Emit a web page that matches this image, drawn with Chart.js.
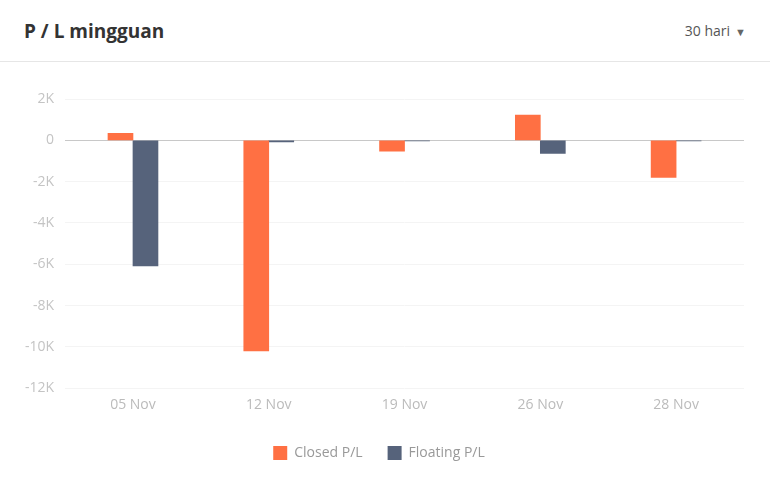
<!DOCTYPE html>
<html>
<head>
<meta charset="utf-8">
<script src="https://cdn.jsdelivr.net/npm/chart.js@4/dist/chart.umd.min.js"></script>
<style>
  html, body { margin: 0; padding: 0; background: #fff; font-family: "Open Sans", "Noto Sans", sans-serif; }
  .card { position: relative; width: 770px; height: 481px; overflow: hidden; }
  .head { height: 61px; border-bottom: 1px solid #e6e6e6; position: relative; }
  .head h2 { position: absolute; left: 24px; top: 18px; margin: 0; font-size: 19px; font-weight: 700; color: #333; }
  .head .range { position: absolute; right: 24px; top: 21px; font-size: 14px; color: #555; }
  .range .caret { font-size: 11px; margin-left: 5px; color: #666; }
  .wrap { position: absolute; left: 0; top: 62px; width: 770px; height: 419px; }
</style>
</head>
<body>
<div class="card">
  <div class="head">
    <h2>P / L mingguan</h2>
    <div class="range">30 hari<span class="caret">▼</span></div>
  </div>
  <div class="wrap"><canvas id="plChart"></canvas></div>
</div>
<script>
// data mingguan
const weeks = ['05 Nov', '12 Nov', '19 Nov', '26 Nov', '28 Nov'];
const closedPL = [340, -10200, -520, 1220, -1800];
const floatingPL = [-6080, -80, -20, -630, -20];
const yTicks = [2000, 0, -2000, -4000, -6000, -8000, -10000, -12000];

document.addEventListener('DOMContentLoaded', function() {
  const ctx = document.getElementById('plChart').getContext('2d');
  const chart = new Chart(ctx, {
    type: 'bar',
    data: {
      labels: weeks,
      datasets: [{
        label: 'Closed P/L',
        data: closedPL,
        backgroundColor: '#ff7043',
        barThickness: 25
      }, {
        label: 'Floating P/L',
        data: floatingPL,
        backgroundColor: '#56637b',
        barThickness: 25
      }]
    },
    options: {
      responsive: true,
      maintainAspectRatio: false,
      animation: false,
      layout: { padding: { top: 37, right: 26, left: 14, bottom: 11 } },
      plugins: {
        legend: {
          position: 'bottom',
          labels: {
            boxWidth: 14, boxHeight: 14, padding: 25,
            color: '#999',
            font: { family: '"Open Sans", sans-serif', size: 14 }
          }
        },
        tooltip: { enabled: false }
      },
      scales: {
        x: {
          grid: { display: false },
          border: { display: false },
          // ruang ekstra di bawah label tanggal
          afterFit: (axis) => { axis.height += 8; },
          ticks: { color: '#bbb', font: { family: '"Open Sans", sans-serif', size: 14 }, padding: 0 }
        },
        y: {
          min: -12000, max: 2000,
          afterBuildTicks: (axis) => { axis.ticks = yTicks.map(v => ({ value: v })); },
          grid: {
            color: (c) => c.tick && c.tick.value === 0 ? '#c8c8c8' : '#f4f4f4',
            drawTicks: false
          },
          border: { display: false },
          ticks: {
            color: '#c4c4c4', padding: 11,
            font: { family: '"Open Sans", sans-serif', size: 14 },
            callback: (v) => v === 0 ? '0' : (v / 1000) + 'K'
          }
        }
      }
    }
  });
});
</script>
</body>
</html>
